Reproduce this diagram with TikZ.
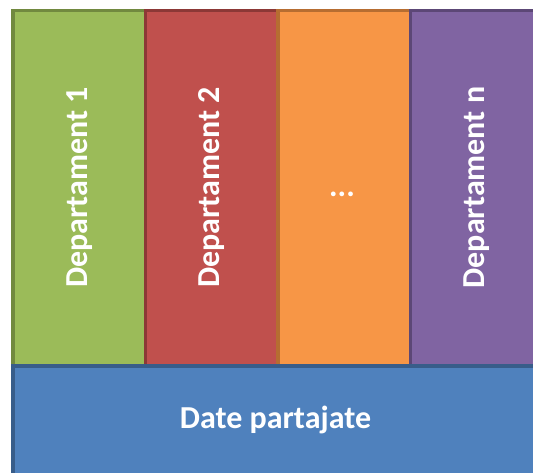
\documentclass[tikz,border=0pt]{standalone}
\usepackage{fontspec}
\setmainfont{Carlito}
\definecolor{cgreen}{HTML}{9BBB59}
\definecolor{cgreenD}{HTML}{71893F}
\definecolor{cred}{HTML}{C0504D}
\definecolor{credD}{HTML}{8C3836}
\definecolor{corange}{HTML}{F79646}
\definecolor{corangeD}{HTML}{B66D31}
\definecolor{cpurple}{HTML}{8064A2}
\definecolor{cpurpleD}{HTML}{5C4776}
\definecolor{cblue}{HTML}{4F81BD}
\definecolor{cblueD}{HTML}{385D8A}
\tikzset{
  blockbox/.style={line width=3.5pt},
  lbl/.style={text=white, font=\fontsize{32}{38}\selectfont\bfseries, inner sep=0pt},
}
\begin{document}
\begin{tikzpicture}[x=1pt,y=-1pt]
\useasboundingbox (0,0) rectangle (533,473);
\clip (0,0) rectangle (533,473);
\draw[blockbox, fill=cgreen, draw=cgreenD] (13,10.5) rectangle (145.5,366);
\draw[blockbox, fill=cred, draw=credD] (145.5,10.5) rectangle (278,366);
\draw[blockbox, fill=corange, draw=corangeD] (278,10.5) rectangle (410.5,366);
\draw[blockbox, fill=cpurple, draw=cpurpleD] (410.5,10.5) rectangle (545,366);
\draw[blockbox, fill=cblue, draw=cblueD] (13,366) rectangle (545,490);
\node[lbl, rotate=90] (d1) at (79.5,187.5) {Departament 1};
\node[lbl, rotate=90] (d2) at (212,187.5) {Departament 2};
\node[lbl] (dd) at (342,194) {...};
\node[lbl, rotate=90] (dn) at (477,187.5) {Departament n};
\node[lbl] (dp) at (275.5,420) {Date partajate};
\end{tikzpicture}
\end{document}
